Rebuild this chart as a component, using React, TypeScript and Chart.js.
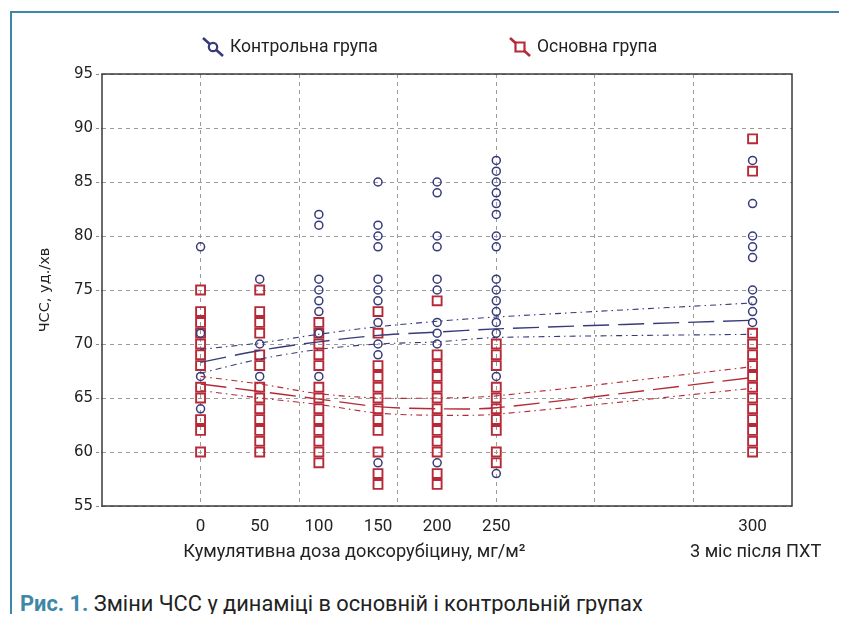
import React, { useEffect, useRef } from "react";
import { Chart, registerables } from "chart.js";

Chart.register(...registerables);

// ---------- data ----------
const doseLabels = ["0", "50", "100", "150", "200", "250", "300"];
// position of each visit on the x axis (last = 3 months after chemotherapy)
const xPositions = [0, 50, 100, 150, 200, 250, 466.67];
const gridPositions = [0, 83.33, 166.67, 250, 333.33, 416.67];
const X_MIN = -83.33;
const X_MAX = 500;
const yTicksMin = 55;
const yTicksMax = 95;
const yStep = 5;

const legendLabels = ["Контрольна група", "Основна група"];
const yTitle = "ЧСС, уд./хв";
const xTitleMain = "Кумулятивна доза доксорубіцину, мг/м²";
const xTitleAfter = "3 міс після ПХТ";

// Control group HR values at each visit
const control0 = [79, 71, 67, 64];
const control50 = [76, 70, 67];
const control100 = [82, 81, 76, 75, 74, 73, 71, 67];
const control150 = [85, 81, 80, 79, 76, 75, 74, 72, 70, 69, 59];
const control200 = [85, 84, 80, 79, 76, 75, 72, 71, 70, 59];
const control250 = [87, 86, 85, 84, 83, 82, 80, 79, 76, 75, 74, 73, 72, 71, 67, 58];
const control300 = [87, 83, 80, 79, 78, 75, 74, 73, 72];

// Main group HR values at each visit
const main0 = [75, 73, 72, 71, 70, 69, 68, 66, 65, 63, 62, 60];
const main50 = [75, 73, 72, 71, 69, 68, 66, 65, 64, 63, 62, 61, 60];
const main100 = [72, 71, 70, 69, 68, 66, 65, 64, 63, 62, 61, 60, 59];
const main150 = [73, 71, 68, 67, 66, 65, 64, 63, 62, 60, 58, 57];
const main200 = [74, 69, 68, 67, 66, 65, 64, 63, 62, 61, 60, 58, 57];
const main250 = [70, 69, 68, 66, 65, 64, 63, 62, 60, 59];
const main300 = [89, 86, 71, 70, 69, 68, 67, 66, 65, 64, 63, 62, 61, 60];

const controlByVisit = [control0, control50, control100, control150, control200, control250, control300];
const mainByVisit = [main0, main50, main100, main150, main200, main250, main300];

// trend lines with confidence bands
const controlMean = [68.3, 69.4, 70.2, 70.8, 71.1, 71.4, 72.2];
const controlUpper = [69.5, 70.1, 70.9, 71.6, 72.1, 72.5, 73.8];
const controlLower = [67.3, 68.6, 69.5, 70.0, 70.2, 70.6, 70.9];
const mainMean = [66.3, 65.6, 64.9, 64.2, 64.0, 64.1, 66.9];
const mainUpper = [67.0, 66.3, 65.4, 65.0, 65.0, 65.2, 67.9];
const mainLower = [65.7, 65.0, 64.4, 63.6, 63.4, 63.5, 65.9];

// ---------- styles ----------
const NAVY = "#383b7a";
const RED = "#b52a36";
const GRID = "#9a9a9a";
const FRAME_BLUE = "#3f87a6";
const TEXT = "#222222";

const near = (a: number, b: number) => Math.abs(a - b) < 0.5;

const tickValues = Array.from(new Set([...xPositions, ...gridPositions])).sort((a, b) => a - b);

const pointsOf = (groups: number[][]) =>
  groups.flatMap((vals, i) => vals.map((v) => ({ x: xPositions[i], y: v })));
const lineOf = (vals: number[]) => vals.map((v, i) => ({ x: xPositions[i], y: v }));

function drawLegendItem(ctx: CanvasRenderingContext2D, cx: number, cy: number, kind: string, color: string, label: string) {
  ctx.save();
  ctx.strokeStyle = color;
  ctx.lineWidth = 2.6;
  ctx.beginPath();
  ctx.moveTo(cx - 10, cy - 9);
  ctx.lineTo(cx + 10, cy + 9);
  ctx.stroke();
  ctx.fillStyle = "#ffffff";
  ctx.lineWidth = 2.2;
  ctx.beginPath();
  if (kind === "circle") {
    ctx.arc(cx, cy, 4.2, 0, Math.PI * 2);
  } else {
    ctx.rect(cx - 4.5, cy - 4.5, 9, 9);
  }
  ctx.fill();
  ctx.stroke();
  ctx.fillStyle = TEXT;
  ctx.font = '17.5px Roboto, "Noto Sans", sans-serif';
  ctx.textAlign = "left";
  ctx.textBaseline = "middle";
  ctx.fillText(label, cx + 17, cy + 1);
  ctx.restore();
}

const decorPlugin = {
  id: "decor",
  beforeDatasetsDraw(chart: any) {
    const { ctx, chartArea: a } = chart;
    ctx.save();
    ctx.strokeStyle = "#3a3a3a";
    ctx.lineWidth = 1.5;
    ctx.strokeRect(a.left, a.top, a.right - a.left, a.bottom - a.top);
    ctx.restore();
  },
  afterDraw(chart: any) {
    const { ctx, chartArea: a, scales } = chart;
    const xs = scales.x;
    // y title
    ctx.save();
    ctx.translate(37, (a.top + a.bottom) / 2);
    ctx.rotate(-Math.PI / 2);
    ctx.font = '14.5px "DejaVu Sans", sans-serif';
    ctx.textAlign = "center";
    ctx.textBaseline = "middle";
    ctx.fillStyle = TEXT;
    ctx.fillText(yTitle, 0, 0);
    ctx.restore();
    // x titles
    ctx.save();
    ctx.font = '18.2px Roboto, "Noto Sans", sans-serif';
    ctx.fillStyle = TEXT;
    ctx.textBaseline = "middle";
    ctx.textAlign = "center";
    const p0 = xs.getPixelForValue(xPositions[0]);
    const p5 = xs.getPixelForValue(xPositions[5]);
    const p6 = xs.getPixelForValue(xPositions[6]);
    ctx.fillText(xTitleMain, (p0 + p5) / 2 + 6, a.bottom + 46);
    ctx.fillText(xTitleAfter, p6 + 3, a.bottom + 46);
    ctx.restore();
    // legend
    drawLegendItem(ctx, a.left + 111, 39, "circle", NAVY, legendLabels[0]);
    drawLegendItem(ctx, a.left + 418, 39, "rect", RED, legendLabels[1]);
  },
};

const meanLine = (data: any, color: string) => ({
  type: "scatter" as const,
  data,
  showLine: true,
  borderColor: color,
  borderWidth: 1.4,
  borderDash: [26, 9],
  pointRadius: 0,
  tension: 0.3,
  fill: false,
});
const ciLine = (data: any, color: string) => ({
  type: "scatter" as const,
  data,
  showLine: true,
  borderColor: color,
  borderWidth: 1.1,
  borderDash: [6, 4, 1.5, 4],
  pointRadius: 0,
  tension: 0.3,
  fill: false,
});

export default function App() {
  const ref = useRef<HTMLCanvasElement>(null);

  useEffect(() => {
    if (!ref.current) return;
    const chart = new Chart(ref.current, {
      type: "scatter",
      data: {
        datasets: [
          ciLine(lineOf(controlUpper), NAVY),
          meanLine(lineOf(controlMean), NAVY),
          ciLine(lineOf(controlLower), NAVY),
          ciLine(lineOf(mainUpper), RED),
          meanLine(lineOf(mainMean), RED),
          ciLine(lineOf(mainLower), RED),
          {
            label: legendLabels[0],
            data: pointsOf(controlByVisit),
            pointStyle: "circle",
            pointRadius: 4,
            borderWidth: 1.5,
            borderColor: NAVY,
            backgroundColor: "rgba(255,255,255,0)",
          },
          {
            label: legendLabels[1],
            data: pointsOf(mainByVisit),
            pointStyle: "rect",
            pointRadius: 6.3,
            borderWidth: 1.9,
            borderColor: RED,
            backgroundColor: "rgba(255,255,255,0)",
          },
        ] as any,
      },
      options: {
        animation: false,
        responsive: false,
        maintainAspectRatio: false,
        events: [],
        layout: { padding: { left: 0, right: 47, top: 66, bottom: 0 } },
        plugins: { legend: { display: false }, tooltip: { enabled: false } },
        scales: {
          x: {
            type: "linear",
            min: X_MIN,
            max: X_MAX,
            afterBuildTicks: (s: any) => {
              s.ticks = tickValues.map((v) => ({ value: v }));
            },
            afterFit: (s: any) => {
              s.height = 77;
            },
            grid: {
              color: (c: any) =>
                c.tick && gridPositions.some((g) => near(g, c.tick.value)) ? GRID : "rgba(0,0,0,0)",
              lineWidth: 1,
              drawTicks: false,
            },
            border: { display: false, dash: [4, 4] },
            ticks: {
              autoSkip: false,
              maxRotation: 0,
              minRotation: 0,
              padding: 11,
              color: TEXT,
              font: { family: 'Roboto, "Noto Sans", sans-serif', size: 17 },
              callback: (v: any) => {
                const i = xPositions.findIndex((p) => near(p, Number(v)));
                return i >= 0 ? doseLabels[i] : "";
              },
            },
          },
          y: {
            min: yTicksMin,
            max: yTicksMax,
            afterFit: (s: any) => {
              s.width = 94;
            },
            grid: {
              color: GRID,
              lineWidth: 1,
              drawTicks: true,
              tickLength: 6,
              tickColor: "#8a8a8a",
              tickBorderDash: [3, 2],
            },
            border: { display: false, dash: [4, 4] },
            ticks: {
              stepSize: yStep,
              padding: 3,
              color: TEXT,
              font: { family: '"DejaVu Sans", sans-serif', size: 15 },
            },
          },
        },
      } as any,
      plugins: [decorPlugin],
    });
    return () => chart.destroy();
  }, []);

  return (
    <div style={{ position: "relative", width: 831, height: 606 }}>
      <div
        style={{
          position: "absolute",
          left: 2,
          top: 3,
          right: -8,
          bottom: -8,
          borderLeft: `2.5px solid ${FRAME_BLUE}`,
          borderTop: `2px solid ${FRAME_BLUE}`,
        }}
      />
      <canvas
        ref={ref}
        width={831}
        height={575}
        style={{ position: "absolute", left: 0, top: 0, width: 831, height: 575, display: "block" }}
      />
      <div
        style={{
          position: "absolute",
          left: 12,
          top: 583,
          fontFamily: 'Roboto, "Noto Sans", sans-serif',
          fontSize: 21.8,
          lineHeight: "26px",
          whiteSpace: "nowrap",
          color: TEXT,
        }}
      >
        <span style={{ color: FRAME_BLUE, fontWeight: 700 }}>Рис. 1.</span> Зміни ЧСС у динаміці в основній і
        контрольній групах
      </div>
    </div>
  );
}
